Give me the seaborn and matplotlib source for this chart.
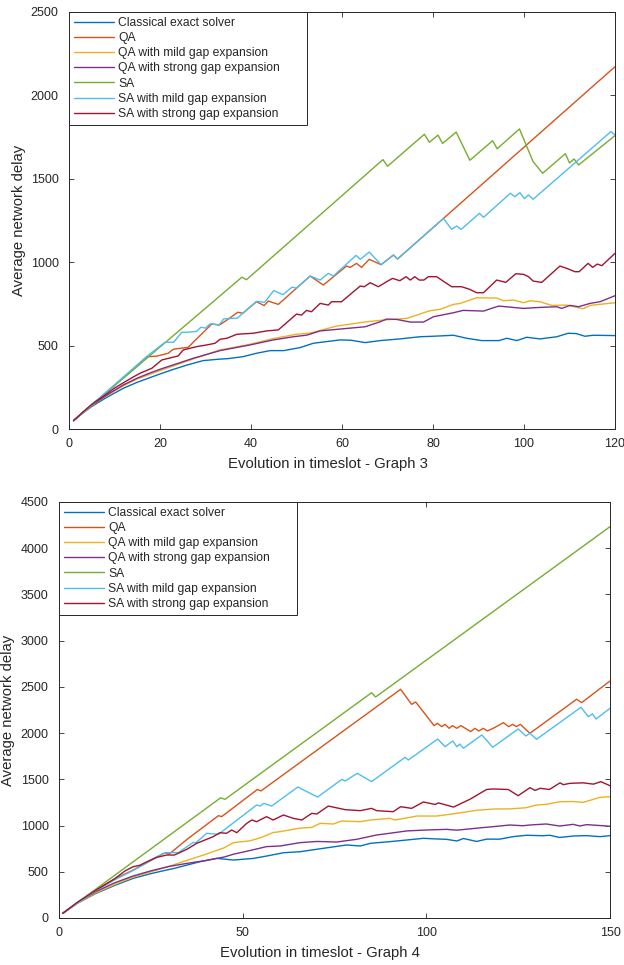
import matplotlib

matplotlib.use("Agg")
import matplotlib.pyplot as plt
import pandas as pd
import seaborn as sns

METHODS = [
    "Classical exact solver",
    "QA",
    "QA with mild gap expansion",
    "QA with strong gap expansion",
    "SA",
    "SA with mild gap expansion",
    "SA with strong gap expansion",
]
COLORS = ["#0072BD", "#D95319", "#EDB120", "#7E2F8E", "#77AC30", "#4DBEEE", "#A2142F"]

# ---- Graph 3 (timeslots 1..120) ----
g3_classical_x = [1, 3, 5, 8, 10, 12, 15, 18, 20, 23, 26, 29.5, 32.7, 35, 38.3, 41.2, 44.2, 47.2, 50.8, 53.7,
                  56, 59.6, 62, 65.1, 68.4, 72.7, 77.1, 80, 84.5, 87.4, 90.7, 94.5, 96.2, 98.4, 100.6, 103.5,
                  107.2, 109.7, 111.5, 113.4, 115.2, 120]
g3_classical_y = [50, 95, 135, 185, 215, 245, 280, 310, 330, 358, 384, 410, 418, 422, 434, 454, 470, 470, 488, 514,
                  522, 534, 532, 518, 530, 540, 553, 556, 562, 544, 530, 530, 544, 530, 550, 540,
                  553, 574, 572, 556, 562, 560]

g3_qa_x = [1, 5, 10, 14, 17.1, 19.3, 21.8, 22.9, 26.2, 31.4, 33, 34.7, 37.1, 38.2, 41.2, 42.9, 43.8, 46, 53,
           55.9, 61, 61.8, 63.2, 64.3, 66, 68.6, 71.3, 72.2, 120]
g3_qa_y = [50, 145, 262, 355, 433, 437, 454, 478, 490, 630, 623, 653, 700, 694, 763, 740, 767, 747, 917,
           863, 977, 969, 993, 969, 1017, 985, 1043, 1019, 2172]

g3_qa_mild_x = [1, 3, 5, 8, 10, 12, 15, 18, 20, 27.3, 33.2, 39.8, 44.9, 50, 53, 58.8, 65.4, 69, 74.2, 79.3,
                81.5, 84.5, 86, 89.6, 94, 95.5, 97.7, 99.9, 101.3, 103.5, 106.1, 109.4, 113, 114.5, 120]
g3_qa_mild_y = [50, 97, 140, 195, 228, 260, 300, 330, 350, 420, 474, 508, 542, 568, 575, 617, 643, 653, 663, 709,
                717, 747, 753, 787, 785, 769, 773, 757, 769, 763, 741, 743, 721, 741, 757]

g3_qa_strong_x = [1, 3, 5, 8, 10, 12, 15, 18, 20, 27.3, 33.2, 39.8, 44.9, 49.3, 52.3, 55.2, 60.3, 65.1, 68.4,
                  69.8, 72, 75, 77.9, 80.1, 84.5, 86.6, 91.1, 93.3, 94.5, 96, 99.9, 103.5, 107.2, 108.3, 110.1,
                  112, 114.5, 116.7, 120]
g3_qa_strong_y = [50, 98, 142, 198, 232, 265, 305, 338, 358, 424, 470, 504, 534, 553, 563, 588, 601, 613, 643,
                  659, 657, 641, 641, 673, 697, 711, 707, 727, 737, 733, 723, 729, 733, 723, 741,
                  733, 753, 763, 799]

g3_sa_x = [1, 38, 39, 69, 70, 78.1, 79.2, 81.1, 82.1, 85.1, 88.1, 93.1, 94.1, 99, 102, 104.1, 109.1, 110, 111,
           112, 120]
g3_sa_y = [50, 910, 895, 1615, 1575, 1767, 1719, 1762, 1712, 1780, 1611, 1728, 1680, 1799, 1603, 1533, 1651,
           1595, 1619, 1583, 1759]

g3_sa_mild_x = [1, 17.1, 21.1, 23, 24.8, 26.2, 28, 29, 30, 31, 33, 34, 37, 41.2, 43, 45, 47, 49, 50, 53, 55.2,
                57, 58.1, 63.1, 64, 66, 68.6, 71.3, 72.2, 82.3, 84.1, 85.2, 86.2, 90.2, 91.1, 97, 98, 99.1,
                100.1, 101, 102, 119.1, 120]
g3_sa_mild_y = [50, 435, 520, 520, 580, 580, 585, 610, 605, 630, 625, 660, 665, 765, 760, 830, 805, 850, 845,
                917, 893, 933, 917, 1041, 1017, 1061, 985, 1043, 1019, 1262, 1197, 1217, 1197, 1293, 1269,
                1413, 1393, 1417, 1381, 1403, 1377, 1783, 1763]

g3_sa_strong_x = [1, 3, 5, 8, 10, 12, 14, 15.6, 18.2, 20.4, 24, 25.1, 28.1, 30.3, 32.1, 33.2, 34.7, 36.9, 40.5,
                  43.4, 46, 50, 51.1, 52.2, 53.3, 55.2, 57, 57.7, 59.9, 64, 64.9, 66.2, 68, 69.8, 71.1, 72.7,
                  74.1, 75, 76, 77, 78, 79, 80.8, 84.1, 86.3, 88.1, 89.6, 91.1, 94, 96, 98.2, 99.9, 101, 102,
                  103.9, 107.9, 109.4, 111.2, 112.1, 114.1, 115.1, 116.1, 117.1, 120]
g3_sa_strong_y = [50, 100, 148, 205, 245, 278, 310, 334, 364, 414, 438, 474, 494, 504, 514, 538, 544, 568, 574,
                  588, 594, 689, 683, 711, 703, 753, 743, 763, 763, 857, 853, 877, 853, 883, 903, 889,
                  913, 893, 913, 893, 893, 913, 913, 853, 853, 837, 817, 817, 893, 879, 931, 927, 913, 887,
                  879, 977, 963, 943, 943, 993, 969, 989, 979, 1053]

# ---- Graph 4 (timeslots 1..150) ----
g4_classical_x = [1, 5, 10, 15, 20.2, 25, 29.3, 31.4, 38.4, 42.9, 47.5, 53, 56.5, 61.1, 65.6, 72, 78.3, 82,
                  84.8, 90.1, 96.5, 99.2, 102.8, 105.5, 108.3, 110.1, 113.7, 116.4, 120, 123.6, 127.3, 131.8,
                  133.6, 136.3, 140, 143.6, 147.3, 150]
g4_classical_y = [50, 160, 265, 350, 429, 480, 519, 537, 609, 645, 627, 645, 670, 706, 717, 754, 790, 779,
                  808, 826, 851, 862, 855, 851, 833, 860, 828, 853, 853, 880, 895, 890,
                  895, 871, 887, 891, 880, 891]

g4_qa_x = [1, 10, 15, 20, 24, 28, 29, 30, 35, 43.4, 44.3, 54, 55, 93, 96, 97.1, 102.1, 103, 104.2, 105.1,
           106.2, 107.1, 108.3, 109.4, 112.1, 113.2, 114.3, 115.5, 116.6, 118.2, 121, 122.4, 123.5, 124.5,
           125.6, 128.2, 140.9, 142.3, 150]
g4_qa_y = [50, 300, 420, 515, 600, 690, 705, 692, 855, 1107, 1097, 1390, 1375, 2474, 2311, 2337, 2081, 2106,
           2070, 2095, 2052, 2081, 2052, 2081, 2016, 2052, 2023, 2052, 2023, 2052, 2113, 2070, 2095, 2070,
           2095, 1998, 2366, 2330, 2564]

g4_qa_mild_x = [1, 5, 10, 15, 20, 25, 30, 35, 40, 45, 47.5, 52, 55, 58.3, 60.2, 65.2, 68.8, 71.1, 74.7, 77,
                82, 84.8, 90.1, 91.4, 95.6, 97.4, 102.8, 108.3, 110.1, 113.7, 118.2, 122.7, 127.2, 129.9,
                132.6, 136.4, 140, 142.7, 147.3, 150]
g4_qa_mild_y = [50, 160, 272, 360, 440, 500, 560, 625, 690, 760, 815, 835, 870, 925, 934, 970, 980, 1024, 1017,
                1049, 1042, 1060, 1078, 1060, 1089, 1103, 1103, 1132, 1143, 1165, 1179, 1180, 1193, 1222,
                1229, 1258, 1260, 1251, 1305, 1312]

g4_qa_strong_x = [1, 5, 10, 15, 20, 25, 30, 35, 40, 45, 47.5, 52, 56.5, 60.2, 65.6, 70.2, 75.6, 81, 86.5,
                  89.2, 94.7, 100.1, 105.5, 108.3, 114.6, 118.2, 122.7, 126.3, 128.2, 132.6, 136.3, 140,
                  141.8, 143.6, 148.1, 150]
g4_qa_strong_y = [50, 165, 285, 378, 452, 510, 558, 592, 622, 660, 690, 730, 772, 779, 815, 828, 822, 851, 898,
                  912, 942, 952, 959, 950, 975, 988, 1006, 998, 1006, 1017, 995, 1013, 995, 1010, 998, 992]

g4_sa_x = [1, 44, 45.2, 85.1, 86.2, 150]
g4_sa_y = [50, 1300, 1284, 2437, 2391, 4233]

g4_sa_mild_x = [1, 10, 15, 20, 24, 27, 29, 32.5, 36.6, 37.2, 40.2, 43.4, 53.8, 54.7, 55.8, 57.9, 65, 70.4, 77,
                77.9, 81.2, 85.1, 94.2, 95.1, 103.1, 105.1, 107.2, 108.3, 109.1, 110.1, 115.1, 118.1, 125,
                127.1, 128.2, 130, 142.1, 144.1, 145.2, 146.2, 150]
g4_sa_mild_y = [50, 295, 410, 510, 600, 670, 707, 707, 819, 812, 916, 905, 1222, 1211, 1240, 1211, 1417, 1308,
                1500, 1482, 1565, 1475, 1738, 1709, 1936, 1853, 1915, 1853, 1882, 1836, 1980, 1847, 2045,
                1969, 1998, 1933, 2279, 2178, 2207, 2153, 2268]

g4_sa_strong_x = [1, 5, 10, 15, 18, 20.2, 22, 24, 26.6, 29.3, 31.4, 34.8, 37.5, 42, 43.8, 45.6, 47, 48.4, 51.1,
                  52.5, 53.8, 56.5, 58.3, 61.1, 63.8, 66.1, 68.8, 70.2, 73.3, 77.9, 82, 85.1, 86.5, 91, 93, 96,
                  99.2, 102.4, 103.3, 107.4, 111.9, 116.4, 118.2, 122.3, 125, 128.2, 129.6, 131, 133.5,
                  136.4, 137.3, 139.1, 142.7, 145.5, 147.5, 150]
g4_sa_strong_y = [50, 170, 300, 420, 510, 555, 570, 610, 656, 681, 681, 743, 808, 880, 923, 916, 952, 923, 1024,
                  1060, 1042, 1096, 1060, 1114, 1078, 1060, 1132, 1125, 1211, 1172, 1161, 1186, 1161, 1150,
                  1204, 1186, 1255, 1228, 1245, 1200, 1285, 1390, 1396, 1390, 1323, 1410, 1380, 1403, 1390,
                  1462, 1442, 1457, 1462, 1448, 1475, 1431]


def build_frame(series):
    frames = []
    for name, xs, ys in series:
        frames.append(pd.DataFrame({"timeslot": xs, "delay": ys, "method": name}))
    return pd.concat(frames, ignore_index=True)


def draw_panel(ax, df, xmax, ymax, xticks, yticks, xlabel, legend_frac):
    sns.lineplot(data=df, x="timeslot", y="delay", hue="method", hue_order=METHODS,
                 palette=COLORS, estimator=None, sort=False, linewidth=1.0, ax=ax)
    ax.set_xlim(0, xmax)
    ax.set_ylim(0, ymax)
    ax.set_xticks(xticks)
    ax.set_yticks(yticks)
    ax.set_xlabel(xlabel, fontsize=10.7, va="center")
    ax.set_ylabel("Average network delay", fontsize=10.7, va="center")
    ax.xaxis.set_label_coords(0.474, -0.085)
    ax.yaxis.set_label_coords(-0.092, 0.5)

    # rebuild the legend in the boxed, top-left MATLAB style
    old = ax.get_legend()
    handles = old.legend_handles
    labels = [t.get_text() for t in old.get_texts()]
    old.remove()
    leg = ax.legend(handles, labels, loc="upper left", bbox_to_anchor=(0, 0, legend_frac, 1),
                    mode="expand", borderaxespad=0, fancybox=False, framealpha=1,
                    edgecolor="#262626", fontsize=8.7, handlelength=3.3, handletextpad=0.35,
                    labelspacing=0.26, borderpad=0.42)
    leg.get_frame().set_linewidth(0.7)
    for h in leg.legend_handles:
        h.set_linewidth(1.0)


sns.set_theme(style="ticks")
plt.rcParams["font.family"] = ["Liberation Sans", "DejaVu Sans"]
plt.rcParams.update({
    "xtick.direction": "in",
    "ytick.direction": "in",
    "xtick.top": True,
    "ytick.right": True,
    "xtick.major.size": 3.6,
    "ytick.major.size": 3.6,
    "xtick.major.width": 0.6,
    "ytick.major.width": 0.6,
    "xtick.major.pad": 6.7,
    "ytick.major.pad": 7.5,
    "xtick.labelsize": 9,
    "ytick.labelsize": 9,
    "axes.linewidth": 0.7,
    "axes.edgecolor": "#262626",
    "xtick.color": "#262626",
    "ytick.color": "#262626",
    "axes.labelcolor": "#262626",
    "text.color": "#262626",
})

g3 = build_frame([
    (METHODS[0], g3_classical_x, g3_classical_y),
    (METHODS[1], g3_qa_x, g3_qa_y),
    (METHODS[2], g3_qa_mild_x, g3_qa_mild_y),
    (METHODS[3], g3_qa_strong_x, g3_qa_strong_y),
    (METHODS[4], g3_sa_x, g3_sa_y),
    (METHODS[5], g3_sa_mild_x, g3_sa_mild_y),
    (METHODS[6], g3_sa_strong_x, g3_sa_strong_y),
])
g4 = build_frame([
    (METHODS[0], g4_classical_x, g4_classical_y),
    (METHODS[1], g4_qa_x, g4_qa_y),
    (METHODS[2], g4_qa_mild_x, g4_qa_mild_y),
    (METHODS[3], g4_qa_strong_x, g4_qa_strong_y),
    (METHODS[4], g4_sa_x, g4_sa_y),
    (METHODS[5], g4_sa_mild_x, g4_sa_mild_y),
    (METHODS[6], g4_sa_strong_x, g4_sa_strong_y),
])

fig = plt.figure(figsize=(6.24, 9.65), dpi=100)
ax_top = fig.add_axes([69 / 624, 1 - 429 / 965, 546 / 624, 417 / 965])
ax_bot = fig.add_axes([59 / 624, 1 - 918 / 965, 551 / 624, 416 / 965])

draw_panel(ax_top, g3, 120, 2500, range(0, 121, 20), range(0, 2501, 500),
           "Evolution in timeslot - Graph 3", 238 / 546)
draw_panel(ax_bot, g4, 150, 4500, range(0, 151, 50), range(0, 4501, 500),
           "Evolution in timeslot - Graph 4", 238 / 551)

fig.savefig("out.png", dpi=100)
